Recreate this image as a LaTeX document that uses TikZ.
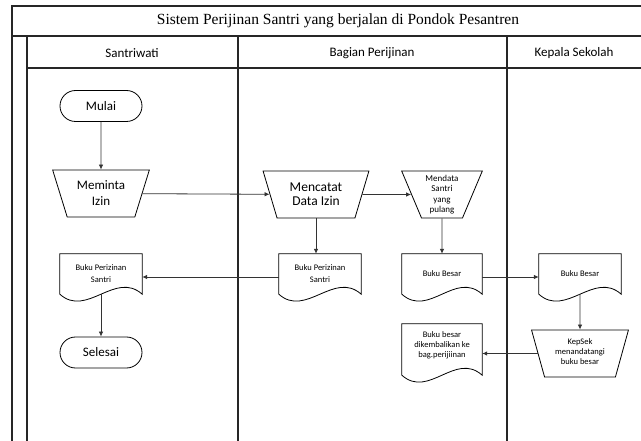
\documentclass[tikz,border=0pt]{standalone}
\usepackage{fontspec}
\setmainfont{Carlito}
\newfontfamily\titlefont{Liberation Serif}
\usetikzlibrary{arrows.meta,shapes.geometric,calc}
\tikzset{
  lane/.style    ={line width=1.1pt, black!85},
  lanehead/.style={font=\fontsize{13}{15}\selectfont},
  terminal/.style={rectangle, rounded corners=15.5pt, draw, line width=0.8pt,
    minimum width=82pt, minimum height=31pt, font=\fontsize{13}{15}\selectfont},
  manual/.style  ={trapezium, shape border rotate=180, trapezium angle=67.5,
    trapezium stretches=true, draw, line width=0.8pt, minimum height=47pt,
    inner sep=0pt, align=center},
  docbox/.style  ={rectangle, minimum height=40pt, inner sep=1pt, align=center,
    font=\fontsize{8.5}{12}\selectfont},
  flow/.style    ={-{Latex[length=5pt,width=4.5pt]}, line width=0.8pt, black!80}
}

\begin{document}
\begin{tikzpicture}[x=1pt, y=-1pt]
\useasboundingbox (0,0) rectangle (641,441);

% swimlanes
\draw[lane] (12,441) |- (642,6);
\draw[lane] (12,36) -- (642,36);
\draw[lane] (27,441) -- (27,36);
\draw[lane] (27,68) -- (642,68);
\draw[lane] (238,36) -- (238,441);
\draw[lane] (507,36) -- (507,441);

\node[font=\titlefont\fontsize{15.5}{18}\selectfont] (title) at (338,21)
  {Sistem Perijinan Santri yang berjalan di Pondok Pesantren};
\node[lanehead] (h-1) at (132,53) {Santriwati};
\node[lanehead] (h-2) at (372,53) {Bagian Perijinan};
\node[lanehead] (h-3) at (574,53) {Kepala Sekolah};

% Santriwati
\node[terminal] (mulai) at (101,106) {Mulai};
\node[manual, minimum width=97pt, font=\fontsize{13}{16}\selectfont]
  (minta) at (101,193.5) {Meminta\\Izin};
\node[docbox, minimum width=82pt] (bps-1) at (101,274) {Buku Perizinan\\Santri};
\node[terminal] (selesai) at (101,352.5) {Selesai};

% Bagian Perijinan
\node[manual, minimum width=106pt, font=\fontsize{13.5}{14}\selectfont]
  (catat) at (316,194.5) {Mencatat\\Data Izin};
\node[manual, minimum width=81pt, font=\fontsize{9}{10.3}\selectfont]
  (data) at (442,194.5) {Mendata\\Santri\\yang\\pulang};
\node[docbox, minimum width=82pt] (bps-2) at (320,274) {Buku Perizinan\\Santri};
\node[docbox, minimum width=80pt] (bb-2) at (442,274) {Buku Besar};
\node[docbox, minimum width=80pt, minimum height=42pt,
  font=\fontsize{8.5}{10}\selectfont] (bb-k) at (442,345)
  {Buku besar\\dikembalikan ke\\bag.perijiinan};

% Kepala Sekolah
\node[docbox, minimum width=82pt] (bb-3) at (580,274) {Buku Besar};
\node[manual, minimum width=97pt, text height=22pt,
  font=\fontsize{8.5}{10}\selectfont] (kepsek) at (580,353.5)
  {KepSek\\menandatangi\\buku besar};

% document outlines
\foreach \n/\ext in {bps-1/0, bps-2/0, bb-2/0, bb-3/0, bb-k/9}
  \draw[line width=0.8pt] ($(\n.south west)+(0,\ext)$) -- (\n.north west)
    -- (\n.north east) -- ($(\n.south east)+(0,\ext)$)
    .. controls +(-27,-24) and +(27,24) .. ($(\n.south west)+(0,\ext)$) -- cycle;

\path[flow]
  (mulai) edge (minta)
  (minta) edge (catat)
  (catat) edge (data)
  (catat.south) edge (catat.south |- bps-2.north)
  (data) edge (bb-2)
  ([yshift=-3pt]bps-2.west) edge ([yshift=-3pt]bps-1.east)
  (bps-1.south) edge (selesai)
  ([yshift=-3pt]bb-2.east) edge ([yshift=-3pt]bb-3.west)
  (bb-3) edge (kepsek)
  (kepsek.west) edge (kepsek.west -| bb-k.east);
\end{tikzpicture}
\end{document}
